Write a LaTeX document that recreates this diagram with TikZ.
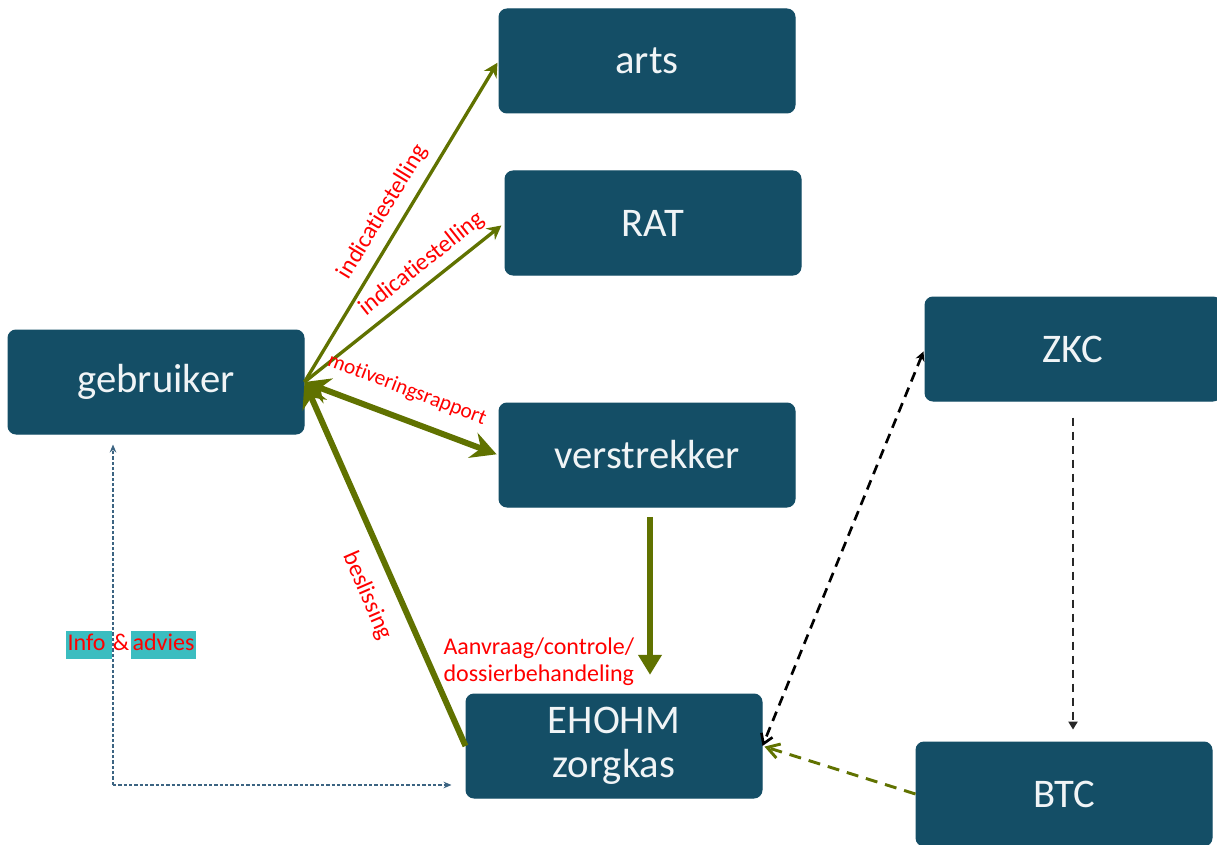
\documentclass[tikz,border=0pt]{standalone}
\usepackage{fontspec}
\setmainfont{Carlito}[Ligatures=NoCommon]
\usetikzlibrary{arrows.meta}

\definecolor{infoteal}{RGB}{59,189,192}
\newcommand{\markeer}[1]{{\setlength{\fboxsep}{1.5pt}\colorbox{infoteal}{\rule[-5pt]{0pt}{18.5pt}#1}}}

\tikzset{every picture/.style={line width=0.75pt}}
\tikzset{
  haak/.tip={Stealth[length=0pt 4.2,width=0pt 4.4,inset=0pt 1.4]},
  blok/.style={fill={rgb, 255:red, 20; green, 78; blue, 102 }, draw={rgb, 255:red, 20; green, 78; blue, 102 }, rounded corners=6pt, minimum width=222pt, minimum height=78pt, inner sep=0.75pt, text={rgb, 255:red, 240; green, 244; blue, 246 }, align=center, font=\fontsize{30.5}{33}\selectfont},
  pijl/.style={color={rgb, 255:red, 96; green, 114; blue, 0 }, line width=2.5pt, -haak},
  dikpijl/.style={pijl, line width=4.5pt},
  rood/.style={color={rgb, 255:red, 255; green, 0; blue, 0 }, inner sep=0.75pt, font=\fontsize{18}{20.5}\selectfont},
}

\begin{document}
\begin{tikzpicture}[x=0.75pt,y=0.75pt,yscale=-1,xscale=1]
\useasboundingbox (0,0) rectangle (1217,845);

%Shape: Rounded Rect
\node [blok] (arts) at (647,61) {arts};
\node [blok] (RAT) at (653,223) {RAT};
\node [blok] (gebruiker) at (156,382) {gebruiker};
\node [blok] (verstrekker) at (647,455) {verstrekker};
\node [blok] (ZKC) at (1073,349) {ZKC};
\node [blok] (EHOHM) at (614,746) {EHOHM\\zorgkas};
\node [blok] (BTC) at (1064,794) {BTC};

%Straight Lines
\draw [pijl, shorten >=1.5pt] (gebruiker.east) -- (arts.west);
\draw [pijl, shorten >=3pt] (gebruiker.east) -- (RAT.west);
\draw [dikpijl, haak-haak, shorten >=1.5pt] (gebruiker.east) -- (verstrekker.west);
\draw [dikpijl] (EHOHM.west) -- (gebruiker.east);
%Straight Lines
\coordinate (vtop) at ([xshift=2.25pt,yshift=7pt]verstrekker.south);
\draw [pijl, line width=5pt, -{Triangle[length=0pt 3,width=0pt 3.4]}, shorten >=14pt] (vtop) -- (vtop |- EHOHM.north);
%Straight Lines (dashed)
\draw [color={rgb, 255:red, 0; green, 0; blue, 0 }, line width=2pt, dash pattern={on 7.5pt off 5pt}, {Stealth[length=7pt,width=7pt]}-{Straight Barb[length=7pt,width=9pt]}, shorten <=2pt] (ZKC.west) -- (EHOHM.east);
\draw [color={rgb, 255:red, 40; green, 40; blue, 40 }, line width=1.1pt, dash pattern={on 6pt off 4.5pt}, -{Triangle[length=6pt,width=7pt]}, shorten >=9pt] ([yshift=12pt]ZKC.south) -- (ZKC.south |- BTC.north);
\draw [color={rgb, 255:red, 96; green, 114; blue, 0 }, line width=2.2pt, dash pattern={on 9pt off 6pt}, -{Straight Barb[length=9pt,width=11pt]}, shorten >=1.5pt] (BTC.west) -- (EHOHM.east);
%Straight Lines (dotted)
\coordinate (hoek) at (113,785);
\draw [color={rgb, 255:red, 60; green, 100; blue, 130 }, line width=0.9pt, dash pattern={on 2.5pt off 1.5pt}, -{Stealth[length=6pt,width=5pt]}, shorten >=7.5pt] (hoek) -- (hoek |- gebruiker.south);
\draw [color={rgb, 255:red, 60; green, 100; blue, 130 }, line width=0.9pt, dash pattern={on 2.5pt off 1.5pt}, -{Stealth[length=6pt,width=5pt]}, shorten >=10.5pt] (hoek) -- (hoek -| EHOHM.west);

% Text Node
\node [rood, rotate=58.7] (ind1) at (383,212) {indicatiestelling};
% Text Node
\node [rood, rotate=38.4] (ind2) at (422,264) {indicatiestelling};
% Text Node
\node [rood, rotate=-21, font=\fontsize{16}{18}\selectfont] (motiv) at (407,390) {motiveringsrapport};
% Text Node
\node [rood, rotate=-66.6] (besl) at (367,596) {beslissing};
% Text Node
\node [rood, anchor=north west, align=left] (aanvraag) at (442,636) {Aanvraag/controle/\\dossierbehandeling};
% Text Node
\node [rood, inner sep=0pt] (info) at (131,645) {\markeer{Info\,}\kern1pt\&\kern1pt\markeer{advies}};
\end{tikzpicture}
\end{document}
